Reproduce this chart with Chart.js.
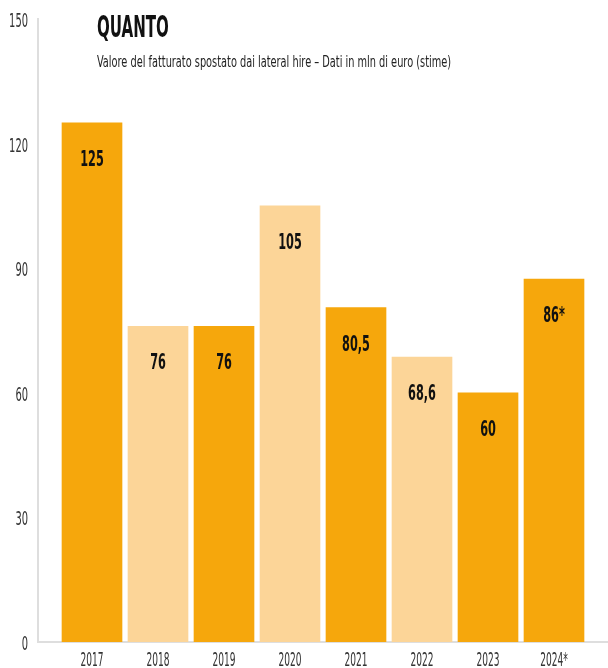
<!DOCTYPE html>
<html>
<head>
<meta charset="utf-8">
<script src="https://cdn.jsdelivr.net/npm/chart.js@4.4.1/dist/chart.umd.min.js"></script>
<style>
  html, body { margin: 0; padding: 0; background: #fff; }
  #wrap { width: 608px; height: 668px; }
</style>
</head>
<body>
<div id="wrap"><canvas id="quantoChart" width="608" height="668"></canvas></div>
<script>
// ---------------- data ----------------
const years = ["2017", "2018", "2019", "2020", "2021", "2022", "2023", "2024*"];
const revenue = [125, 76, 76, 105, 80.5, 68.6, 60, 87.4];
const valueLabels = ["125", "76", "76", "105", "80,5", "68,6", "60", "86*"];
const yTicks = [0, 30, 60, 90, 120, 150];
const titleText = "QUANTO";
const subtitleText = "Valore del fatturato spostato dai lateral hire \u2013 Dati in mln di euro (stime)";

const DARK = '#f6a70c';
const LIGHT = '#fcd598';
const barColors = [DARK, LIGHT, DARK, LIGHT, DARK, LIGHT, DARK, DARK];

const NARROW = "'Liberation Sans Narrow', 'DejaVu Sans Condensed', sans-serif";

// draw text squeezed horizontally (the original uses a very condensed face)
function narrowText(ctx, text, x, y, font, color, align, squeeze) {
  ctx.save();
  ctx.font = font;
  ctx.fillStyle = color;
  ctx.textAlign = 'left';
  ctx.textBaseline = 'alphabetic';
  const w = ctx.measureText(text).width * squeeze;
  let left = x;
  if (align === 'center') left = x - w / 2;
  else if (align === 'right') left = x - w;
  ctx.translate(left, y);
  ctx.scale(squeeze, 1);
  ctx.fillText(text, 0, 0);
  ctx.restore();
}

const textPlugin = {
  id: 'textPlugin',
  afterDraw(chart) {
    const ctx = chart.ctx;
    const xs = chart.scales.x;
    const ys = chart.scales.y;

    // title + subtitle
    narrowText(ctx, titleText, 97, 37, "bold 31px " + NARROW, '#111', 'left', 0.54);
    narrowText(ctx, subtitleText, 97, 67, "16px " + NARROW, '#222', 'left', 0.68);

    // y tick labels
    yTicks.forEach(v => {
      narrowText(ctx, String(v), 28, ys.getPixelForValue(v) + 8, "19px " + NARROW, '#333', 'right', 0.58);
    });

    // x category labels
    years.forEach((y, i) => {
      narrowText(ctx, y, xs.getPixelForValue(i), 666, "19px " + NARROW, '#333', 'center', 0.53);
    });

    // value labels inside bars
    const meta = chart.getDatasetMeta(0);
    meta.data.forEach((bar, i) => {
      narrowText(ctx, valueLabels[i], bar.x, bar.y + 43, "bold 22px " + NARROW, '#111', 'center', 0.57);
    });
  }
};

const ctx = document.getElementById('quantoChart').getContext('2d');
let quantoChart = new Chart(ctx, {
  type: 'bar',
  data: {
    datasets: [{
      data: years.map((y, i) => ({ x: i, y: revenue[i] })),
      backgroundColor: barColors,
      borderWidth: 0,
      barThickness: 60
    }]
  },
  options: {
    responsive: false,
    animation: false,
    layout: { padding: { left: 38, top: 19, right: 0, bottom: 26 } },
    plugins: {
      legend: { display: false },
      tooltip: { enabled: false }
    },
    scales: {
      x: {
        type: 'linear',
        offset: false,
        min: -54 / 66,
        max: 516 / 66,
        grid: { display: false, drawTicks: false, offset: false },
        ticks: { display: false },
        border: { color: '#dedede', width: 2 }
      },
      y: {
        min: 0,
        max: 150,
        grid: { display: false, drawTicks: false },
        ticks: { display: false, stepSize: 30 },
        border: { color: '#dedede', width: 2 }
      }
    }
  },
  plugins: [textPlugin]
});
</script>
</body>
</html>
